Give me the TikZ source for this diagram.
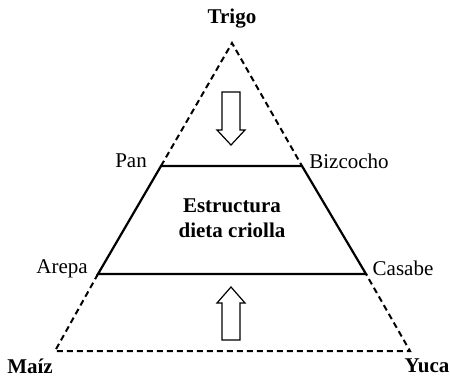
\documentclass[tikz,border=0pt]{standalone}
\usepackage{fontspec}
\setmainfont{Liberation Serif}
\usetikzlibrary{positioning}

\begin{document}
\begin{tikzpicture}[x=0.5pt, y=-0.5pt,
label-main/.style={font=\fontsize{10.5}{12.5}\selectfont\bfseries},
label-side/.style={font=\fontsize{10.5}{12.5}\selectfont},
edge-solid/.style={draw, line width=1.1pt},
edge-dash/.style={draw, line width=1pt, dash pattern=on 3pt off 2pt},
flow/.style={draw, line width=0.6pt, fill=white}
]
\useasboundingbox (0,0) rectangle (450,380);

% corners of the triangle
\coordinate (top) at (232,43);
\coordinate (base-l) at (55,351);
\coordinate (base-r) at (410,351);
\coordinate (pan) at (161,166);
\coordinate (bizcocho) at (302,166);
\coordinate (arepa) at (98,274);
\coordinate (casabe) at (366,274);

\node [label-main] (trigo) at (232,19) {Trigo};
\node [label-main] (maiz) at (30,366) {Maíz};
\node [label-main] (yuca) at (427,366) {Yuca};

\node [label-side] (pan-l) at (131,161) {Pan};
\node [label-side] (bizcocho-l) at (349,161) {Bizcocho};
\node [label-side] (arepa-l) at (62,269) {Arepa};
\node [label-side] (casabe-l) at (403,268) {Casabe};

\node [label-main, align=center] (dieta) at (232,218) {Estructura\\dieta criolla};

\path [edge-dash] (pan) -- (top) -- (bizcocho);
\path [edge-dash] (arepa) -- (base-l) -- (base-r) -- (casabe);
\path [edge-solid] (pan) -- (bizcocho) -- (casabe) -- (arepa) -- cycle;

% arrows
\path [flow] (222,92) -- (240,92) -- (240,130) -- (245,130) -- (231,145)
  -- (217,130) -- (222,130) -- cycle;
\path [flow] (222,340) -- (240,340) -- (240,303) -- (245,303) -- (231,287)
  -- (217,303) -- (222,303) -- cycle;

\end{tikzpicture}
\end{document}
